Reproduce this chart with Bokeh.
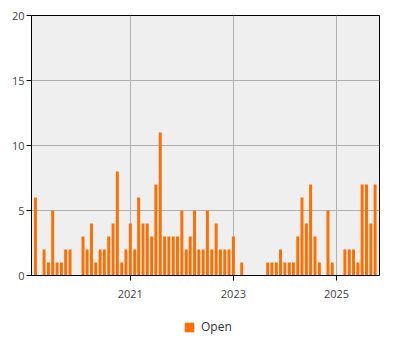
from datetime import datetime
from bokeh.plotting import figure
from bokeh.layouts import column
from bokeh.models import FixedTicker, DatetimeTickFormatter, ColumnDataSource, Legend, LegendItem, Range1d
from bokeh.embed import file_html
from bokeh.resources import INLINE

months = ["2019-03", "2019-05", "2019-06", "2019-07", "2019-08", "2019-09", "2019-10", "2019-11",
          "2020-02", "2020-03", "2020-04", "2020-05", "2020-06", "2020-07", "2020-08", "2020-09",
          "2020-10", "2020-11", "2020-12",
          "2021-01", "2021-02", "2021-03", "2021-04", "2021-05", "2021-06", "2021-07", "2021-08",
          "2021-09", "2021-10", "2021-11", "2021-12",
          "2022-01", "2022-02", "2022-03", "2022-04", "2022-05", "2022-06", "2022-07", "2022-08",
          "2022-09", "2022-10", "2022-11", "2022-12",
          "2023-01", "2023-03", "2023-09", "2023-10", "2023-11", "2023-12",
          "2024-01", "2024-02", "2024-03", "2024-04", "2024-05", "2024-06", "2024-07", "2024-08",
          "2024-09", "2024-11", "2024-12",
          "2025-03", "2025-04", "2025-05", "2025-06", "2025-07", "2025-08", "2025-09", "2025-10"]
open_counts = [6, 2, 1, 5, 1, 1, 2, 2,
               3, 2, 4, 1, 2, 2, 3, 4,
               8, 1, 2,
               4, 2, 6, 4, 4, 3, 7, 11,
               3, 3, 3, 3,
               5, 2, 3, 5, 2, 2, 5, 2,
               4, 2, 2, 2,
               3, 1, 1, 1, 1, 2,
               1, 1, 1, 3, 6, 4, 7, 3,
               1, 5, 1,
               2, 2, 2, 1, 7, 7, 4, 7]
series_name = "Open"
tick_years = [2021, 2023, 2025]
y_ticks = [0, 5, 10, 15, 20]
x_start = "2019-02"
x_end = "2025-11"

dates = [datetime.strptime(m, "%Y-%m") for m in months]
src = ColumnDataSource(dict(x=dates, y=open_counts))

color = "#ff6e00"
font = "Open Sans"

p = figure(width=400, height=305, x_axis_type="datetime",
           x_range=(datetime.strptime(x_start, "%Y-%m"), datetime.strptime(x_end, "%Y-%m")),
           y_range=(0, 20), output_backend="svg", toolbar_location=None,
           min_border_left=31, min_border_right=21, min_border_top=15, min_border_bottom=30)

day_ms = 24 * 3600 * 1000
r = p.vbar(x="x", top="y", width=21 * day_ms, source=src, color=color, line_color=None)

p.background_fill_color = "#efefef"
p.border_fill_color = "white"
p.outline_line_color = "black"
p.outline_line_alpha = 1.0
p.outline_line_width = 1

p.xaxis.ticker = FixedTicker(ticks=[datetime(y, 1, 1).timestamp() * 1000 for y in tick_years])
p.xaxis.formatter = DatetimeTickFormatter(years="%Y", months="%Y", days="%Y")
p.yaxis.ticker = FixedTicker(ticks=y_ticks)

for ax in (p.xaxis[0], p.yaxis[0]):
    ax.axis_line_color = "black"
    ax.major_tick_line_color = "black"
    ax.major_tick_out = 5
    ax.major_tick_in = 0
    ax.minor_tick_line_color = None
    ax.major_label_text_font = font
    ax.major_label_text_font_size = "11px"
    ax.major_label_text_color = "#444444"
p.xaxis[0].major_label_standoff = 9
p.yaxis[0].major_label_standoff = 2

p.xgrid.grid_line_color = "#b0b0b0"
p.ygrid.grid_line_color = "#b0b0b0"
p.xgrid.ticker = p.xaxis[0].ticker
p.ygrid.ticker = p.yaxis[0].ticker

# legend strip below the chart
lf = figure(width=400, height=45, output_backend="svg", toolbar_location=None,
            x_range=Range1d(0, 1), y_range=Range1d(0, 1),
            x_axis_location=None, y_axis_location=None,
            min_border=0, min_border_left=0, min_border_right=0, min_border_top=0, min_border_bottom=0)
lf.grid.visible = False
lf.outline_line_color = None
lr = lf.vbar(x=[-5], top=[-4], bottom=[-5], width=0.5, color=color, line_color=None)

legend = Legend(items=[LegendItem(label=series_name, renderers=[lr])], orientation="horizontal",
                location=(152, 15))
legend.label_text_font = font
legend.label_text_font_size = "12px"
legend.label_text_color = "#333333"
legend.glyph_width = 12
legend.glyph_height = 12
legend.label_standoff = 6
legend.label_height = 12
legend.border_line_color = None
legend.background_fill_alpha = 0
legend.padding = 0
legend.margin = 0
lf.add_layout(legend, "center")

layout = column(p, lf, spacing=0)
open("out.html", "w").write(file_html(layout, INLINE))
